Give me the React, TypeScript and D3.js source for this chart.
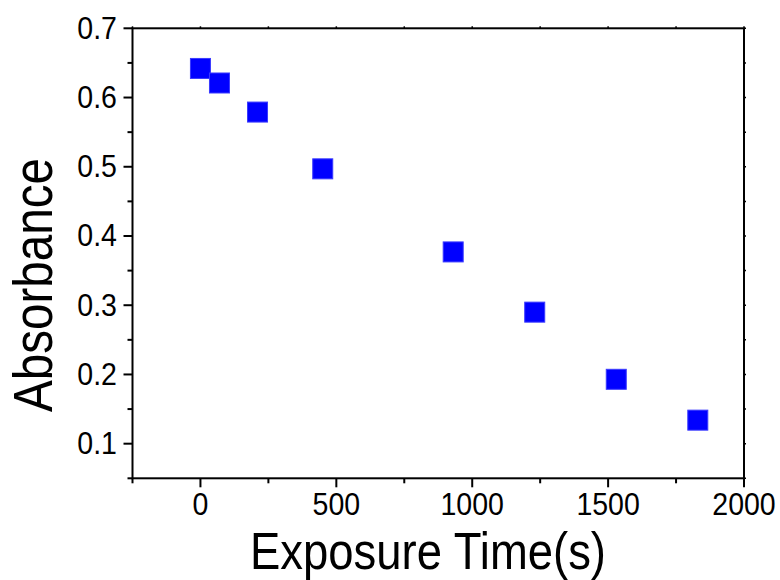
import React from "react";
import * as d3 from "d3";

const times = [0, 70, 210, 450, 930, 1230, 1530, 1830];
const absorbance = [0.642, 0.621, 0.579, 0.497, 0.377, 0.29, 0.193, 0.134];
const xTicks = [0, 500, 1000, 1500, 2000];
const xMinor = [-250, 250, 750, 1250, 1750];
const yTicks = [0.1, 0.2, 0.3, 0.4, 0.5, 0.6, 0.7];
const yMinor = [0.05, 0.15, 0.25, 0.35, 0.45, 0.55, 0.65];

const W = 780;
const H = 580;
const L = 132.5, R = 744, T = 28.3, B = 478.3;
const FONT = "Liberation Sans, Arial, sans-serif";
const SQ = 0.92;

function textW(s: string, f: number) {
  let w = 0;
  for (const c of s) w += c === "." ? 0.278 : 0.556;
  return w * f * SQ;
}

export default function App() {
  const x = d3.scaleLinear().domain([-250, 2000]).range([L, R]);
  const y = d3.scaleLinear().domain([0.05, 0.7]).range([B, T]);
  const tf = 31;
  return (
    <svg width={W} height={H} style={{ position: "absolute", left: 0, top: 0, background: "#fff" }}>
      <rect x={0} y={0} width={W} height={H} fill="#fff" />
      {/* frame */}
      <rect x={L} y={T} width={R - L} height={B - T} fill="none" stroke="#000" strokeWidth={2} />
      {/* bottom ticks */}
      {xTicks.map((t) => (
        <g key={"xt" + t}>
          <line x1={x(t)} x2={x(t)} y1={B} y2={B + 9} stroke="#000" strokeWidth={2} />
          <line x1={x(t)} x2={x(t)} y1={T} y2={T - 2} stroke="#000" strokeWidth={1.5} />
          <text
            x={x(t)}
            y={B + 37}
            textAnchor="middle"
            fontFamily={FONT}
            fontSize={tf}
            textLength={textW(String(t), tf)}
            lengthAdjust="spacingAndGlyphs"
          >
            {t}
          </text>
        </g>
      ))}
      {xMinor.map((t) => (
        <g key={"xm" + t}>
          <line x1={x(t)} x2={x(t)} y1={B} y2={B + 5} stroke="#000" strokeWidth={2} />
          <line x1={x(t)} x2={x(t)} y1={T} y2={T - 2} stroke="#000" strokeWidth={1.5} />
        </g>
      ))}
      {/* left ticks */}
      {yTicks.map((t) => (
        <g key={"yt" + t}>
          <line x1={L} x2={L - 9} y1={y(t)} y2={y(t)} stroke="#000" strokeWidth={2} />
          <line x1={R} x2={R + 2} y1={y(t)} y2={y(t)} stroke="#000" strokeWidth={1.5} />
          <text
            x={117}
            y={y(t) + 10.5}
            textAnchor="end"
            fontFamily={FONT}
            fontSize={tf}
            textLength={textW(t.toFixed(1), tf)}
            lengthAdjust="spacingAndGlyphs"
          >
            {t.toFixed(1)}
          </text>
        </g>
      ))}
      {yMinor.map((t) => (
        <g key={"ym" + t}>
          <line x1={L} x2={L - 5} y1={y(t)} y2={y(t)} stroke="#000" strokeWidth={2} />
          <line x1={R} x2={R + 2} y1={y(t)} y2={y(t)} stroke="#000" strokeWidth={1.5} />
        </g>
      ))}
      {/* points */}
      {times.map((t, i) => (
        <rect
          key={"p" + i}
          x={x(t) - 10}
          y={y(absorbance[i]) - 10}
          width={20}
          height={20}
          fill="#0000ff"
          stroke="#3a3aff"
          strokeWidth={1}
        />
      ))}
      {/* titles */}
      <text
        x={428}
        y={569}
        textAnchor="middle"
        fontFamily={FONT}
        fontSize={52}
        textLength={356}
        lengthAdjust="spacingAndGlyphs"
      >
        Exposure Time(s)
      </text>
      <text
        transform={`translate(52,285) rotate(-90)`}
        textAnchor="middle"
        fontFamily={FONT}
        fontSize={56}
        textLength={254}
        lengthAdjust="spacingAndGlyphs"
      >
        Absorbance
      </text>
    </svg>
  );
}
